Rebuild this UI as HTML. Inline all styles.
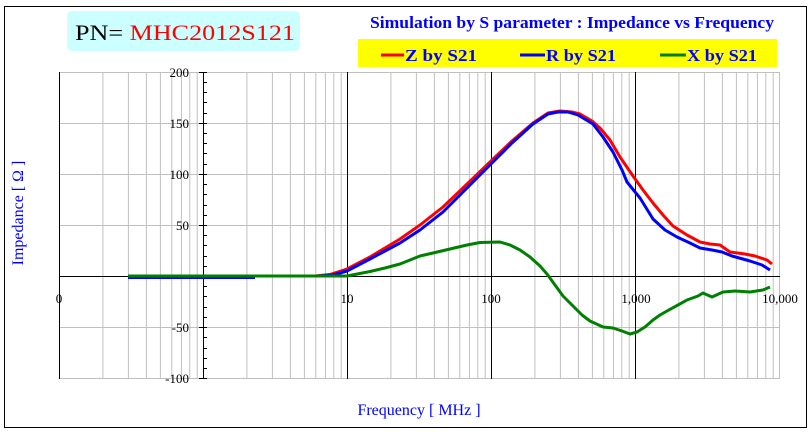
<!DOCTYPE html>
<html><head><meta charset="utf-8"><style>
body{margin:0;background:#fff}
svg{display:block}
text{font-family:"Liberation Serif",serif}
</style></head><body>
<svg width="811" height="432" viewBox="0 0 811 432" xmlns="http://www.w3.org/2000/svg">
<rect x="0" y="0" width="811" height="432" fill="#fff"/>
<rect x="4.5" y="6.5" width="802" height="421" fill="none" stroke="#000" stroke-width="1"/>
<rect x="67" y="11" width="233" height="40" rx="5" fill="#ccffff"/>
<text x="75" y="40" font-size="22" textLength="220" lengthAdjust="spacingAndGlyphs"><tspan fill="#000">PN= </tspan><tspan fill="#ff0000">MHC2012S121</tspan></text>
<text x="370" y="28" font-size="17" font-weight="bold" fill="#0000ff" textLength="404" lengthAdjust="spacingAndGlyphs">Simulation by S parameter : Impedance vs Frequency</text>
<rect x="358" y="39" width="419" height="28" fill="#ffff00"/>
<g font-size="17" font-weight="bold" fill="#0000ff">
<line x1="381" y1="55" x2="404" y2="55" stroke="#ff0000" stroke-width="3"/>
<text x="405" y="61" textLength="72" lengthAdjust="spacingAndGlyphs">Z by S21</text>
<line x1="520" y1="55" x2="545" y2="55" stroke="#0000ff" stroke-width="3"/>
<text x="546" y="61" textLength="70" lengthAdjust="spacingAndGlyphs">R by S21</text>
<line x1="660" y1="55" x2="686" y2="55" stroke="#008000" stroke-width="3"/>
<text x="687" y="61" textLength="70" lengthAdjust="spacingAndGlyphs">X by S21</text>
</g>
<defs>
<g id="dec" stroke="#c0c0c0" stroke-width="1">
<line x1="43.4" y1="72" x2="43.4" y2="379"/><line x1="68.9" y1="72" x2="68.9" y2="379"/>
<line x1="86.9" y1="72" x2="86.9" y2="379"/><line x1="100.9" y1="72" x2="100.9" y2="379"/>
<line x1="112.3" y1="72" x2="112.3" y2="379"/><line x1="121.9" y1="72" x2="121.9" y2="379"/>
<line x1="130.3" y1="72" x2="130.3" y2="379"/><line x1="137.7" y1="72" x2="137.7" y2="379"/>
</g>
</defs>
<use href="#dec" transform="translate(59.5,0)"/>
<use href="#dec" transform="translate(203.5,0)"/>
<use href="#dec" transform="translate(347.5,0)"/>
<use href="#dec" transform="translate(491.5,0)"/>
<use href="#dec" transform="translate(635.5,0)"/>
<g stroke="#c0c0c0" stroke-width="1">
<line x1="59" y1="72.5" x2="780" y2="72.5"/>
<line x1="59" y1="123.5" x2="780" y2="123.5"/>
<line x1="59" y1="174.5" x2="780" y2="174.5"/>
<line x1="59" y1="225.5" x2="780" y2="225.5"/>
<line x1="59" y1="327.5" x2="780" y2="327.5"/>
<line x1="59" y1="378.5" x2="780" y2="378.5"/>
<line x1="779.5" y1="72" x2="779.5" y2="379"/>
</g>
<g stroke="#000" stroke-width="1">
<line x1="59.5" y1="72" x2="59.5" y2="379"/>
<line x1="347.5" y1="72" x2="347.5" y2="379"/>
<line x1="491.5" y1="72" x2="491.5" y2="379"/>
<line x1="635.5" y1="72" x2="635.5" y2="379"/>
<line x1="203.5" y1="72" x2="203.5" y2="379"/>
<line x1="59" y1="276.5" x2="780" y2="276.5"/>
<path d="M203 82.5h4M203 92.5h4M203 102.5h4M203 113.5h4M203 133.5h4M203 143.5h4M203 153.5h4M203 164.5h4M203 184.5h4M203 194.5h4M203 205.5h4M203 215.5h4M203 235.5h4M203 245.5h4M203 256.5h4M203 266.5h4M203 286.5h4M203 296.5h4M203 307.5h4M203 317.5h4M203 337.5h4M203 348.5h4M203 358.5h4M203 368.5h4M199 72.5h8M199 123.5h8M199 174.5h8M199 225.5h8M199 327.5h8M199 378.5h8"/>
</g>
<g font-size="13" fill="#000" font-family="Liberation Sans Narrow, Liberation Sans, sans-serif" text-anchor="end">
<text x="189" y="77">200</text><text x="189" y="128">150</text><text x="189" y="179">100</text>
<text x="189" y="230">50</text><text x="189" y="332">-50</text><text x="189" y="383">-100</text>
</g>
<g font-size="13" fill="#000" text-anchor="middle">
<text x="59" y="303">0</text><text x="347" y="303">10</text><text x="491" y="303">100</text>
<text x="636" y="303">1,000</text><text x="780" y="303">10,000</text>
</g>
<text transform="translate(23,213) rotate(-90)" font-size="16" fill="#0000ff" text-anchor="middle">Impedance [ Ω ]</text>
<text x="419" y="415" font-size="16" fill="#0000ff" text-anchor="middle">Frequency [ MHz ]</text>
<g fill="none" stroke-width="3" stroke-linejoin="round">
<polyline stroke="#0000ff" points="128,277.5 255,277.5"/>
<polyline stroke="#ff0000" points="315,276 330,274.5 347,269 370,257 400,239 420,225 443,207 465,186 490,162 512,141 533,123 548,113 560,111 572,112 580,114 592,121 600,128 610,140 620,157 633,176 643,190 653,203 663,215 673,226 687,235 700,242 710,244 720,245 730,252 745,254 755,256 767,260 772,264"/>
<polyline stroke="#0000ff" points="318,276 333,275 347,271 370,259 400,243 420,230 443,212 465,190 490,165 512,143 533,124 548,114 558,112 568,112 578,115 593,124 603,137 613,152 622,170 627,182 640,198 653,219 665,230 677,237 690,243 700,248 712,250 722,252 732,256 750,261 762,265 770,270"/>
<polyline stroke="#008000" points="128,276 347,276 370,271.5 385,268 400,264 420,256 433,253 450,249 467,245 480,242.5 500,242 510,245 520,250 530,257 540,266 547,274 555,285 563,296 573,306 582,315 590,321 603,327 613,328 622,331 630,334 637,332 645,327 653,320 660,315 667,311 678,305 687,300 698,296 703,293 712,297 723,292 735,291 750,292 763,290 770,287"/>
</g>
</svg>
</body></html>
